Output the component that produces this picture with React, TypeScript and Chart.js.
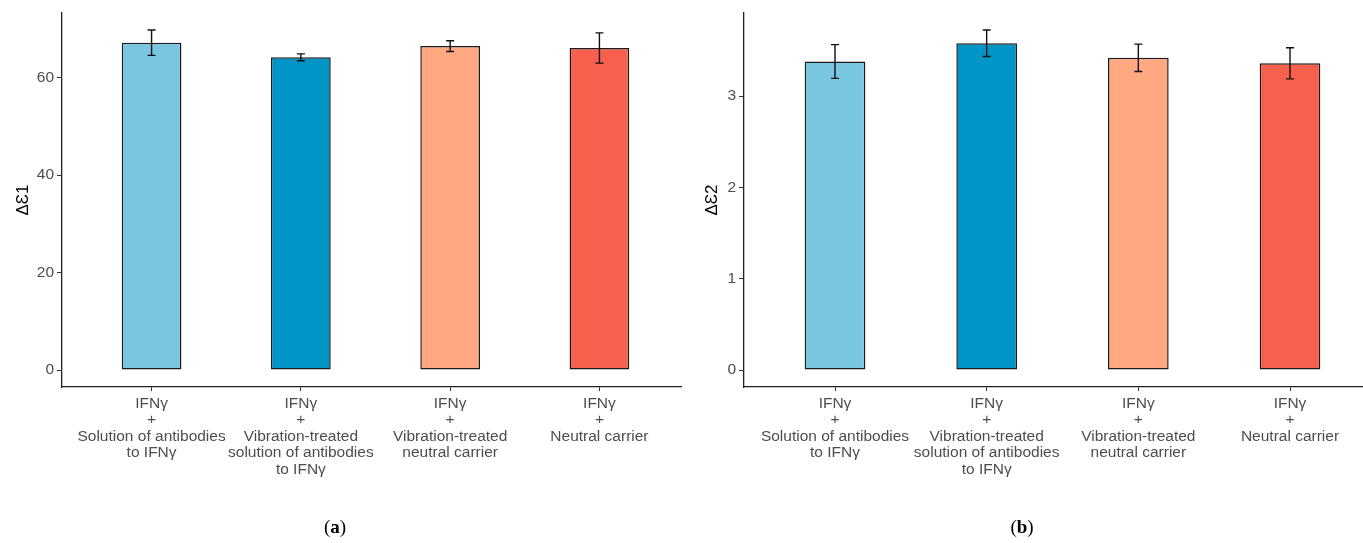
import React, { useEffect, useRef } from "react";
import { Chart, registerables } from "chart.js";

Chart.register(...registerables);

// ---- data ----
const categoryLabels: string[][] = [
  ["IFNγ", "+", "Solution of antibodies", "to IFNγ"],
  ["IFNγ", "+", "Vibration-treated", "solution of antibodies", "to IFNγ"],
  ["IFNγ", "+", "Vibration-treated", "neutral carrier"],
  ["IFNγ", "+", "Neutral carrier"],
];
const categoryPositions = [1, 2, 3, 4];
const barColors = ["#78C6DF", "#0095C7", "#FFA882", "#F6604C"];

const eps1Means = [67.2, 64.2, 66.5, 66.1];
const eps1Errors = [2.6, 0.7, 1.1, 3.1];
const eps1Ticks = [0, 20, 40, 60];

const eps2Means = [3.38, 3.58, 3.42, 3.36];
const eps2Errors = [0.185, 0.145, 0.15, 0.17];
const eps2Ticks = [0, 1, 2, 3];

const FONT = "'Liberation Sans', Arial, sans-serif";

const errorBarPlugin = {
  id: "errorBars",
  afterDatasetsDraw(chart: any, _args: any, opts: any) {
    const errs: number[] = opts && opts.errors;
    if (!errs) return;
    const xs = chart.scales.x;
    const ys = chart.scales.y;
    const data = chart.data.datasets[0].data as { x: number; y: number }[];
    const ctx = chart.ctx as CanvasRenderingContext2D;
    ctx.save();
    ctx.strokeStyle = opts.color || "#111";
    ctx.lineWidth = opts.width || 1.3;
    const half = (opts.capWidth || 8) / 2;
    data.forEach((pt, i) => {
      const x = xs.getPixelForValue(pt.x);
      const yHi = ys.getPixelForValue(pt.y + errs[i]);
      const yLo = ys.getPixelForValue(pt.y - errs[i]);
      ctx.beginPath();
      ctx.moveTo(x, yHi);
      ctx.lineTo(x, yLo);
      ctx.moveTo(x - half, yHi);
      ctx.lineTo(x + half, yHi);
      ctx.moveTo(x - half, yLo);
      ctx.lineTo(x + half, yLo);
      ctx.stroke();
    });
    ctx.restore();
  },
};

type PanelProps = {
  means: number[];
  errors: number[];
  ticks: number[];
  title: string;
  titlePad: number;
  yAxisWidth: number;
  canvasWidth: number;
  left: number;
  clipWidth: number;
};

function BarPanel(p: PanelProps) {
  const ref = useRef<HTMLCanvasElement | null>(null);
  useEffect(() => {
    if (!ref.current) return;
    const top = Math.max(...p.means.map((m, i) => m + p.errors[i]));
    const chart = new Chart(ref.current, {
      type: "bar",
      data: {
        datasets: [
          {
            data: p.means.map((m, i) => ({ x: categoryPositions[i], y: m })),
            backgroundColor: barColors,
            borderColor: "#1a1a1a",
            borderWidth: 1.5,
            borderSkipped: false,
            barPercentage: 0.4,
            categoryPercentage: 1,
          } as any,
        ],
      },
      plugins: [errorBarPlugin],
      options: {
        animation: false,
        responsive: false,
        maintainAspectRatio: false,
        events: [],
        layout: { padding: { top: 13, left: 0, right: 0, bottom: 0 } },
        plugins: {
          legend: { display: false },
          tooltip: { enabled: false },
          errorBars: { errors: p.errors, color: "#111", width: 1.4, capWidth: 8 },
        } as any,
        scales: {
          x: {
            type: "linear",
            offset: false,
            min: 0.4,
            max: 4.6,
            afterBuildTicks: (s: any) => {
              s.ticks = categoryPositions.map((v) => ({ value: v }));
            },
            afterFit: (s: any) => {
              s.height = 543 - 387;
            },
            ticks: {
              autoSkip: false,
              maxRotation: 0,
              minRotation: 0,
              padding: 4,
              color: "#4d4d4d",
              font: { family: FONT, size: 15.5, lineHeight: 1.07 },
              callback: (v: any) => categoryLabels[categoryPositions.indexOf(Number(v))] || "",
            },
            grid: {
              display: true,
              offset: false,
              drawOnChartArea: false,
              drawTicks: true,
              tickLength: 4,
              tickColor: "#333",
              tickWidth: 1,
            },
            border: { display: true, color: "#222", width: 1.3 },
          } as any,
          y: {
            type: "linear",
            min: -0.05 * top,
            max: 1.05 * top,
            afterBuildTicks: (s: any) => {
              s.ticks = p.ticks.map((v) => ({ value: v }));
            },
            afterFit: (s: any) => {
              s.width = p.yAxisWidth;
            },
            ticks: {
              padding: 3,
              color: "#4d4d4d",
              font: { family: FONT, size: 15.5 },
              callback: (v: any) => String(v),
            },
            grid: {
              display: true,
              drawOnChartArea: false,
              drawTicks: true,
              tickLength: 5,
              tickColor: "#333",
              tickWidth: 1,
            },
            border: { display: true, color: "#222", width: 1.3 },
            title: {
              display: true,
              text: p.title,
              color: "#000",
              font: { family: FONT, size: 17 },
              padding: { top: p.titlePad, bottom: 0 },
            },
          } as any,
        },
      },
    });
    return () => chart.destroy();
  }, []);
  return (
    <div
      style={{
        position: "absolute",
        left: p.left,
        top: 0,
        width: p.clipWidth,
        height: 543,
        overflow: "hidden",
      }}
    >
      <canvas ref={ref} width={p.canvasWidth} height={543} style={{ width: p.canvasWidth, height: 543, display: "block" }} />
    </div>
  );
}

const captionStyle: React.CSSProperties = {
  position: "absolute",
  top: 515,
  width: 80,
  textAlign: "center",
  fontFamily: "'Liberation Serif', 'DejaVu Serif', serif",
  fontSize: 19,
  color: "#000",
  lineHeight: "24px",
};

export default function App() {
  return (
    <div
      style={{
        position: "fixed",
        left: 0,
        top: 0,
        width: 1363,
        height: 543,
        overflow: "hidden",
        background: "#fff",
      }}
    >
      <BarPanel
        means={eps1Means}
        errors={eps1Errors}
        ticks={eps1Ticks}
        title="ΔƐ1"
        titlePad={13}
        yAxisWidth={62}
        canvasWidth={689}
        left={0}
        clipWidth={682}
      />
      <BarPanel
        means={eps2Means}
        errors={eps2Errors}
        ticks={eps2Ticks}
        title="ΔƐ2"
        titlePad={21}
        yAxisWidth={63}
        canvasWidth={700}
        left={681}
        clipWidth={700}
      />
      <div style={{ ...captionStyle, left: 335 - 40 }}>
        (<b>a</b>)
      </div>
      <div style={{ ...captionStyle, left: 1022 - 40 }}>
        (<b>b</b>)
      </div>
    </div>
  );
}
